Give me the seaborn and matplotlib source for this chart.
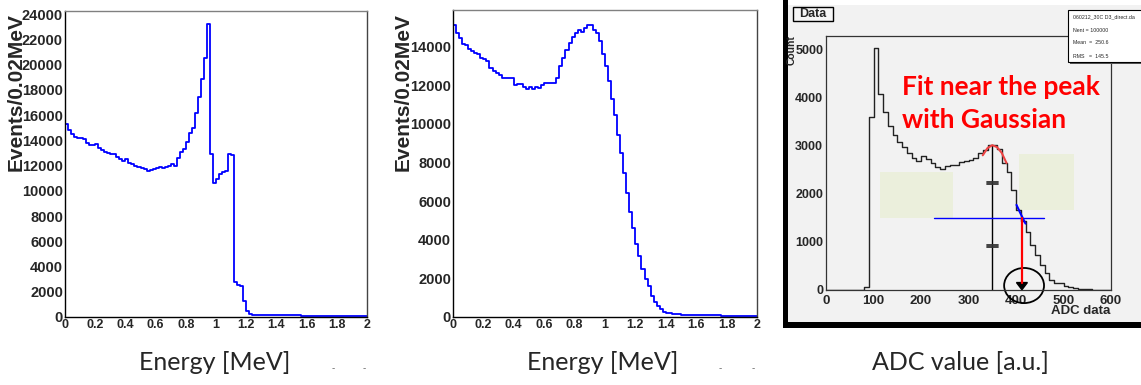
import numpy as np
import pandas as pd
import matplotlib
matplotlib.use("Agg")
import matplotlib.pyplot as plt
import seaborn as sns
from matplotlib.patches import Rectangle, Ellipse, Polygon
from matplotlib.ticker import MultipleLocator

# ---- data ----
# simulated energy spectra, 0.02 MeV bins from 0 to 2 MeV
left_counts = [15300, 14800, 14500, 14300, 14200, 14200, 14100, 13800, 13600, 13600,
               13700, 13400, 13200, 13100, 13000, 12900, 12900, 12700, 12500, 12400,
               12500, 12200, 12100, 12000, 11900, 11800, 11700, 11600, 11650, 11700,
               11800, 11900, 11800, 11850, 12000, 12100, 11950, 12600, 13100, 13300,
               13900, 14600, 15000, 16200, 17400, 18900, 20500, 23200, 12900, 10600,
               10900, 11300, 11500, 11600, 12900, 12850, 2800, 2500, 2450, 1300,
               500, 220, 180, 170, 165, 160, 160, 150, 152, 145,
               140, 142, 135, 130, 131, 125, 124, 120, 115, 117,
               110, 108, 105, 100, 101, 95, 96, 90, 88, 85,
               86, 80, 78, 75, 76, 70, 68, 66, 64, 60]
right_counts = [15100, 14700, 14470, 14120, 14070, 13860, 13780, 13690, 13600, 13430,
                13340, 13260, 12910, 12740, 12620, 12510, 12390, 12390, 12390, 12360,
                11990, 12080, 12050, 11920, 11820, 11920, 11790, 11920, 11870, 11990,
                12100, 12130, 12100, 12100, 12400, 13000, 13400, 13850, 14200, 14500,
                14700, 14850, 14780, 14990, 15130, 15130, 14870, 14730, 14320, 13610,
                13000, 12200, 11280, 10470, 9430, 8480, 7440, 6440, 5460, 4630,
                3770, 3160, 2470, 1950, 1600, 1090, 790, 570, 400, 270,
                220, 220, 160, 160, 130, 120, 122, 110, 112, 100,
                101, 95, 96, 90, 88, 85, 80, 82, 75, 76,
                70, 71, 65, 66, 60, 61, 55, 56, 50, 50]
energy_bin, energy_range = 0.02, (0, 2)

# measured ADC spectrum, 10-count bins from 0 to 600
adc_counts = [0, 0, 0, 0, 0, 0, 0, 0, 60, 3600,
              5040, 4065, 3700, 3410, 3220, 3080, 2980, 2850, 2735, 2690,
              2790, 2715, 2645, 2560, 2510, 2575, 2590, 2600, 2660, 2690,
              2700, 2750, 2850, 2920, 3010, 3020, 2940, 2630, 2460, 2080,
              1660, 1430, 1210, 935, 727, 520, 350, 210, 140, 140,
              80, 70, 40, 30, 30, 15, 10, 10, 5, 5]
adc_bin, adc_range = 10, (0, 600)

# gaussian fit near the peak and fit to the falling edge
fit_adc = [330, 340, 350, 360, 370, 380]
fit_counts = [2800, 2950, 3010, 2970, 2850, 2640]
edge_adc = [401, 410, 420]
edge_counts = [1770, 1580, 1380]
peak_adc, peak_count = 349, 3010
half_level, half_from, half_to = 1500, 227, 459
edge_point = 413
marks = [2250, 2200, 935, 890]
boxes = [(114, 1490, 267, 2457), (407, 1662, 523, 2825)]

stats_lines = ["060212_30C D3_direct.da", "Nent = 100000", "Mean  =  250.6", "RMS   =  145.5"]

# ---- figure ----
sns.set_style("white")
plt.rcParams['font.family'] = ['Liberation Sans', 'DejaVu Sans']

W, H = 1141, 385
fig = plt.figure(figsize=(W / 100, H / 100), dpi=100)


def box(l, t, r, b):
    return [l / W, 1 - b / H, (r - l) / W, (b - t) / H]


def step_hist(ax, counts, width, rng, color, lw):
    centers = rng[0] + width * (np.arange(len(counts)) + 0.5)
    df = pd.DataFrame({"x": centers, "n": counts})
    sns.histplot(data=df, x="x", weights="n", binwidth=width, binrange=rng,
                 element="step", fill=False, color=color, linewidth=lw, ax=ax)
    ax.set_xlabel("")
    ax.set_ylabel("")


def energy_panel(ax, counts, ymax, ytop):
    step_hist(ax, counts, energy_bin, energy_range, "#0000ff", 1.3)
    ax.set_xlim(0, 2)
    ax.set_ylim(0, ymax)
    xt = np.round(np.arange(0, 2.01, 0.2), 1)
    ax.set_xticks(xt)
    ax.set_xticklabels([f"{v:g}" for v in xt], fontsize=9, fontweight="bold")
    yt = np.arange(0, ytop + 1, 2000)
    ax.set_yticks(yt)
    ax.set_yticklabels([str(v) for v in yt], fontsize=10.5, fontweight="bold")
    ax.xaxis.set_minor_locator(MultipleLocator(0.04))
    ax.yaxis.set_minor_locator(MultipleLocator(500))
    ax.tick_params(which="both", direction="in", top=False, right=False, color="#222222")
    ax.tick_params(which="major", length=6, width=0.9)
    ax.tick_params(which="minor", length=3, width=0.8)
    ax.tick_params(axis="x", pad=1.5)
    ax.tick_params(axis="y", pad=1.5)
    for s in ax.spines.values():
        s.set_linewidth(1.0)
        s.set_color("black")
    ax.spines["top"].set_color("#808080")
    ax.spines["right"].set_color("#444444")
    ax.set_facecolor("white")


ax1 = fig.add_axes(box(65, 11, 367, 317))
energy_panel(ax1, left_counts, 24250, 24000)
ax2 = fig.add_axes(box(453, 10, 757, 317))
energy_panel(ax2, right_counts, 15900, 14000)

# screenshot background of the ADC panel
bg = fig.add_axes(box(783, 0, 1141, 328))
bg.set_xlim(783, 1141)
bg.set_ylim(328, 0)
bg.axis("off")
bg.add_patch(Rectangle((787, 5), 360, 318, fc="#f2f2f2", ec="none"))
bg.add_patch(Rectangle((783, 0), 4.5, 328, fc="black", ec="none"))
bg.add_patch(Rectangle((783, 322), 360, 6, fc="black", ec="none"))

ax3 = fig.add_axes(box(826, 36, 1111, 290))
ax3.set_facecolor("#f2f2f2")
for x0, y0, x1, y1 in boxes:
    ax3.add_patch(Rectangle((x0, y0), x1 - x0, y1 - y0, fc="#ebefdc", ec="none", zorder=0))
step_hist(ax3, adc_counts, adc_bin, adc_range, "#222222", 1.0)
ax3.set_xlim(0, 600)
ax3.set_ylim(0, 5280)
ax3.set_xticks(np.arange(0, 601, 100))
ax3.set_xticklabels([str(v) for v in range(0, 601, 100)], fontsize=9.5, fontweight="bold")
ax3.set_yticks(np.arange(0, 5001, 1000))
ax3.set_yticklabels([str(v) for v in range(0, 5001, 1000)], fontsize=9, fontweight="bold")
ax3.xaxis.set_minor_locator(MultipleLocator(50))
ax3.yaxis.set_minor_locator(MultipleLocator(500))
ax3.tick_params(which="both", direction="in", top=False, right=False, color="#333333")
ax3.tick_params(which="major", length=7, width=0.9)
ax3.tick_params(which="minor", length=4, width=0.8)
ax3.tick_params(axis="x", pad=3.5)
ax3.tick_params(axis="y", pad=2)
for s in ax3.spines.values():
    s.set_linewidth(0.9)
    s.set_color("#333333")

# annotations on the ADC spectrum
ax3.plot([peak_adc, peak_adc], [0, peak_count], color="black", lw=1.0)
for yv in marks:
    ax3.plot([338, 362], [yv, yv], color="#333333", lw=1.3)
ax3.plot([half_from, half_to], [half_level, half_level], color="#0000ff", lw=1.0)
sns.lineplot(x=fit_adc, y=fit_counts, color="#ee4444", lw=1.5, ax=ax3, sort=False)
sns.lineplot(x=edge_adc, y=edge_counts, color="#0000ff", lw=1.5, ax=ax3, sort=False)
ax3.plot([edge_point, edge_point], [half_level, 150], color="#ff0000", lw=1.6)
ax3.add_patch(Polygon([(401, 155), (424, 155), (412.5, 5)], closed=True, fc="black", ec="black"))
ax3.add_patch(Ellipse((417, 93), 84, 730, fill=False, ec="black", lw=1.3, clip_on=False))
ax3.text(160, 4217, "Fit near the peak", color="#ff0000", fontsize=19, fontweight="bold",
         family=["Lato", "DejaVu Sans"], va="center", ha="left")
ax3.text(160, 3531, "with Gaussian", color="#ff0000", fontsize=19, fontweight="bold",
         family=["Lato", "DejaVu Sans"], va="center", ha="left")

# overlay for pixel-placed texts and boxes
ov = fig.add_axes([0, 0, 1, 1])
ov.set_xlim(0, W)
ov.set_ylim(H, 0)
ov.axis("off")
ov.patch.set_alpha(0)

for x in (16, 403):
    ov.text(x, 13, "Events/0.02MeV", rotation=90, ha="center", va="top",
            fontsize=15, fontweight="bold")

for x, label in ((215, "Energy [MeV]"), (603, "Energy [MeV]"), (960, "ADC value [a.u.]")):
    ov.text(x, 362, label, ha="center", va="center", fontsize=18,
            family=["Lato", "DejaVu Sans"])
for x in (333, 364, 720, 753):
    ov.text(x, 368, "-", ha="center", va="center", fontsize=7, color="#666666")

ov.text(792, 35, "Count", rotation=90, ha="center", va="top", fontsize=7.5, fontweight="bold")
ov.text(1110, 311, "ADC data", ha="right", va="center", fontsize=9.5, fontweight="bold")

ov.add_patch(Rectangle((794, 8), 40, 14, fc="#555555", ec="none"))
ov.add_patch(Rectangle((793, 7), 40, 14, fc="#f6f6f6", ec="black", lw=1.0))
ov.text(813, 14, "Data", ha="center", va="center", fontsize=9, fontweight="bold")

ov.add_patch(Rectangle((1070, 12), 80, 52, fc="#555555", ec="none"))
ov.add_patch(Rectangle((1068, 10), 80, 52, fc="white", ec="black", lw=0.8))
for i, line in enumerate(stats_lines):
    ov.text(1073, 17 + i * 13, line, ha="left", va="center", fontsize=3.8)

fig.savefig("out.png", dpi=100, facecolor="white")
